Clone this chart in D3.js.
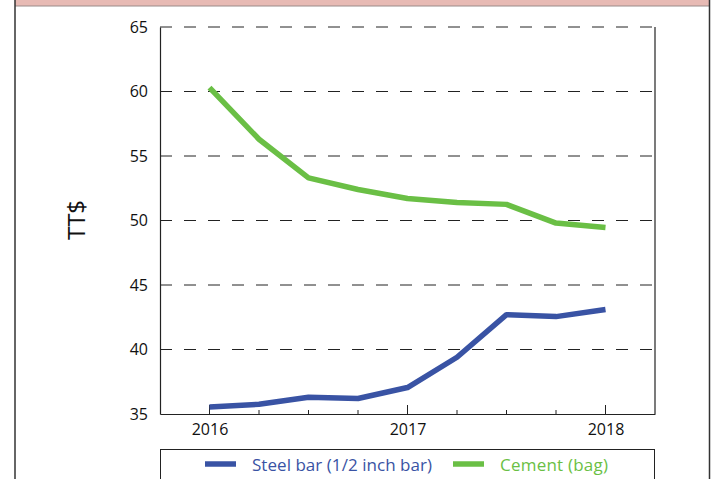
<!DOCTYPE html>
<html>
<head>
<meta charset="utf-8">
<script src="https://cdn.jsdelivr.net/npm/d3@7"></script>
<style>
  body { margin: 0; background: #fff; }
  svg { display: block; font-family: "Open Sans", "Noto Sans", sans-serif; }
</style>
</head>
<body>
<div id="chart"></div>
<script>
// quarterly points, 2016 Q1 .. 2018 Q1
var quarters = [2016, 2016.25, 2016.5, 2016.75, 2017, 2017.25, 2017.5, 2017.75, 2018];
var steelBar = [35.55, 35.75, 36.3, 36.2, 37.05, 39.4, 42.7, 42.55, 43.1];
var cement = [60.3, 56.3, 53.3, 52.4, 51.7, 51.4, 51.25, 49.8, 49.45];
var yTicks = [35, 40, 45, 50, 55, 60, 65];
var xYears = [2016, 2017, 2018];
var seriesNames = ["Steel bar (1/2 inch bar)", "Cement (bag)"];

var width = 715, height = 479;

var svg = d3.select("#chart").append("svg")
    .attr("width", width)
    .attr("height", height);

// outer frame with pink header band
svg.append("rect")
    .attr("x", 15).attr("y", 0)
    .attr("width", 695).attr("height", 6)
    .attr("fill", "#e7bab4");
svg.append("line")
    .attr("x1", 15).attr("x2", 710).attr("y1", 6).attr("y2", 6)
    .attr("stroke", "#9a8b89").attr("stroke-width", 1);
svg.append("line")
    .attr("x1", 15).attr("x2", 15).attr("y1", 0).attr("y2", height)
    .attr("stroke", "#333").attr("stroke-width", 1.5);
svg.append("line")
    .attr("x1", 709.5).attr("x2", 709.5).attr("y1", 0).attr("y2", height)
    .attr("stroke", "#333").attr("stroke-width", 1.5);

var x = d3.scaleLinear()
    .domain([2015.75, 2018.25])
    .range([160, 655]);

var y = d3.scaleLinear()
    .domain([35, 65])
    .range([414, 27]);

/* dashed gridlines */
svg.append("g")
    .selectAll("line")
    .data(yTicks.slice(1))
    .enter().append("line")
        .attr("x1", x.range()[0])
        .attr("x2", x.range()[1])
        .attr("y1", function(d) { return y(d); })
        .attr("y2", function(d) { return y(d); })
        .attr("stroke", "#222")
        .attr("stroke-width", 1)
        .attr("stroke-dasharray", "12,12");

// y axis labels (no ticks)
var yAxis = d3.axisLeft(y).tickValues(yTicks).tickSize(0).tickPadding(12);
var gy = svg.append("g")
    .attr("transform", "translate(" + x.range()[0] + ",0)")
    .call(yAxis);
gy.select(".domain").attr("stroke", "#222").attr("stroke-width", 1.2);
gy.selectAll("text").attr("font-size", 16).attr("fill", "#111")
    .attr("font-family", "'Open Sans', 'Noto Sans', sans-serif");

// right frame line
svg.append("line")
    .attr("x1", x.range()[1]).attr("x2", x.range()[1])
    .attr("y1", y(65)).attr("y2", y(35))
    .attr("stroke", "#222").attr("stroke-width", 1.2);

// x axis: major year ticks and minor quarter ticks pointing inward
var xAxis = d3.axisBottom(x).tickValues(xYears).tickFormat(d3.format("d")).tickSize(0).tickPadding(10);
var gx = svg.append("g")
    .attr("transform", "translate(0," + y(35) + ")")
    .call(xAxis);
gx.select(".domain").attr("stroke", "#222").attr("stroke-width", 1.2);
gx.selectAll("text").attr("font-size", 16).attr("fill", "#111")
    .attr("font-family", "'Open Sans', 'Noto Sans', sans-serif");

svg.append("g")
    .selectAll("line")
    .data(quarters)
    .enter().append("line")
        .attr("x1", function(d) { return x(d); })
        .attr("x2", function(d) { return x(d); })
        .attr("y1", y(35))
        .attr("y2", function(d) { return xYears.indexOf(d) >= 0 ? y(35) - 9 : y(35) - 4; })
        .attr("stroke", "#222")
        .attr("stroke-width", 1);

// y title
svg.append("text")
    .attr("transform", "translate(85,220) rotate(-90)")
    .attr("text-anchor", "middle")
    .attr("font-size", 24)
    .attr("fill", "#111")
    .text("TT$");

/* lines */
var colors = ["#3953a4", "#6abf45"];
var series = [steelBar, cement];

var line = d3.line()
    .x(function(d, i) { return x(quarters[i]); })
    .y(function(d) { return y(d); });

svg.append("g")
    .selectAll("path")
    .data(series)
    .enter().append("path")
        .attr("d", line)
        .attr("fill", "none")
        .attr("stroke", function(d, i) { return colors[i]; })
        .attr("stroke-width", 5.5)
        .attr("stroke-linejoin", "round");

/* legend */
svg.append("rect")
    .attr("x", 160.5).attr("y", 449.5)
    .attr("width", 494).attr("height", 40)
    .attr("fill", "none")
    .attr("stroke", "#222").attr("stroke-width", 1);

var legendX = [205, 453];
var leg = svg.append("g")
    .selectAll("g")
    .data(seriesNames)
    .enter().append("g")
        .attr("transform", function(d, i) { return "translate(" + legendX[i] + ",464)"; });

leg.append("line")
    .attr("x1", 0).attr("x2", 31)
    .attr("stroke", function(d, i) { return colors[i]; })
    .attr("stroke-width", 5.5);

leg.append("text")
    .attr("x", 47)
    .attr("y", 6.5)
    .attr("font-size", 17)
    .attr("textLength", function(d, i) { return i === 0 ? 180 : 108; })
    .attr("fill", function(d, i) { return colors[i]; })
    .text(function(d) { return d; });
</script>
</body>
</html>
